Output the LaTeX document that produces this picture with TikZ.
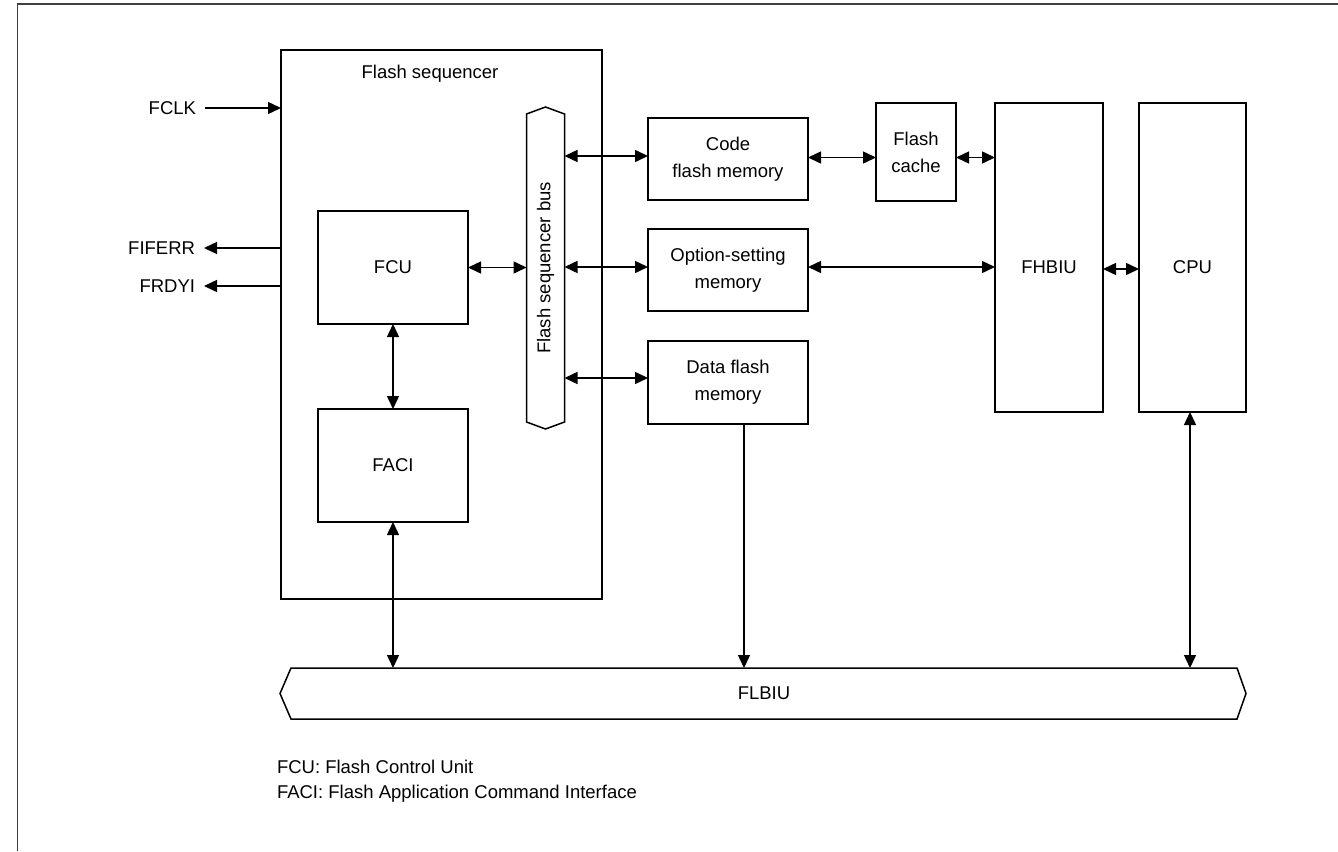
\documentclass[tikz,border=0pt]{standalone}
\usepackage{fontspec}
\setmainfont{Liberation Sans}
\usetikzlibrary{arrows.meta,calc}
\definecolor{bordergray}{RGB}{64,64,64}
\newcommand{\lblfont}{\fontsize{18.5}{27}\selectfont}
\begin{document}
\begin{tikzpicture}[x=1pt,y=-1pt,
  box/.style={draw, line width=1.5pt, inner sep=0pt, outer sep=0pt, align=center, font=\lblfont},
  txt/.style={inner sep=0pt, outer sep=0pt, align=left, font=\lblfont},
  conn/.style={line width=1.5pt, -{Triangle[length=13pt,width=12pt]}},
  bi/.style={line width=1.5pt, {Triangle[length=13pt,width=12pt]}-{Triangle[length=13pt,width=12pt]}},
  shapeline/.style={line width=1.5pt, line join=miter}
]
\useasboundingbox (0,0) rectangle (1338,851);
% outer frame
\draw[line width=1.5pt, bordergray] (17.5,851) -- (17.5,4) -- (1338,4);

% flash sequencer
\node[box, minimum width=321pt, minimum height=549pt] (seq) at (441.5,324.5) {};
\node[txt] (seqlbl) at (430,74) {Flash sequencer};

\node[box, minimum width=150pt, minimum height=113pt] (fcu) at (393,267.5) {FCU};
\node[box, minimum width=150pt, minimum height=113pt] (faci) at (393,465.5) {FACI};

% bus
\node[inner sep=0pt, outer sep=0pt, minimum width=38pt, minimum height=308pt] (bus) at (545.5,268) {};
\draw[shapeline] (bus.north west) -- ($(bus.north)+(0,-7)$) -- (bus.north east) -- (bus.south east) -- ($(bus.south)+(0,7)$) -- (bus.south west) -- cycle;
\node[txt, rotate=90] (buslbl) at (bus.center) {Flash sequencer bus};

% memories
\node[box, minimum width=160pt, minimum height=82pt] (code) at (728,159) {Code\\flash memory};
\node[box, minimum width=160pt, minimum height=82pt] (opt) at (728,270) {Option-setting\\memory};
\node[box, minimum width=160pt, minimum height=83pt] (data) at (728,382.5) {Data flash\\memory};
\node[box, minimum width=80pt, minimum height=98pt] (cache) at (916,152) {Flash\\cache};
\node[box, minimum width=108pt, minimum height=309pt] (fhbiu) at (1049,257.5) {\raisebox{-16pt}[0pt][0pt]{FHBIU}};
\node[box, minimum width=107pt, minimum height=309pt] (cpu) at (1192.5,257.5) {\raisebox{-16pt}[0pt][0pt]{CPU}};

% FLBIU
\node[inner sep=0pt, outer sep=0pt, minimum width=946pt, minimum height=51pt, font=\lblfont] (flbiu) at (764,693.5) {FLBIU};
\draw[shapeline] (flbiu.north west) -- (flbiu.north east) -- ($(flbiu.east)+(9,0)$) -- (flbiu.south east) -- (flbiu.south west) -- ($(flbiu.west)+(-11,0)$) -- cycle;

% external signals
\node[txt, anchor=east] (fclk) at (196,108) {FCLK};
\node[txt, anchor=east] (fiferr) at (195,248) {FIFERR};
\node[txt, anchor=east] (frdyi) at (195,286) {FRDYI};
\draw[conn] ($(fclk.east)+(9,0)$) -- (seq.west |- fclk.east);
\draw[conn] (seq.west |- fiferr.east) -- ($(fiferr.east)+(9,0)$);
\draw[conn] (seq.west |- frdyi.east) -- ($(frdyi.east)+(9,0)$);

% internal connectors
\draw[bi] (fcu.south) -- (faci.north);
\draw[bi] (fcu.east) -- (bus.west |- fcu.east);
\coordinate (b1) at (bus.east |- 0,156);
\coordinate (b2) at (bus.east |- 0,267);
\coordinate (b3) at (bus.east |- 0,378);
\draw[bi] (b1) -- (code.west |- b1);
\draw[bi] (b2) -- (opt.west |- b2);
\draw[bi] (b3) -- (data.west |- b3);
\coordinate (c1) at (code.east |- 0,157.5);
\draw[bi] (c1) -- (cache.west |- c1);
\coordinate (c2) at (cache.east |- 0,157.5);
\draw[bi] (c2) -- (fhbiu.west |- c2);
\draw[bi] (opt.east |- b2) -- (fhbiu.west |- b2);
\coordinate (h1) at (fhbiu.east |- 0,269);
\draw[bi] (h1) -- (cpu.west |- h1);

% to FLBIU
\draw[bi] (faci.south) -- (flbiu.north -| faci.south);
\coordinate (d1) at (744,0);
\draw[conn] (data.south -| d1) -- (flbiu.north -| d1);
\coordinate (p1) at (1190,0);
\draw[bi] (cpu.south -| p1) -- (flbiu.north -| p1);

% notes
\node[txt, anchor=west] (note1) at (277,767) {FCU: Flash Control Unit};
\node[txt, anchor=west] (note2) at (277,794) {FACI: Flash Application Command Interface};
\end{tikzpicture}
\end{document}
